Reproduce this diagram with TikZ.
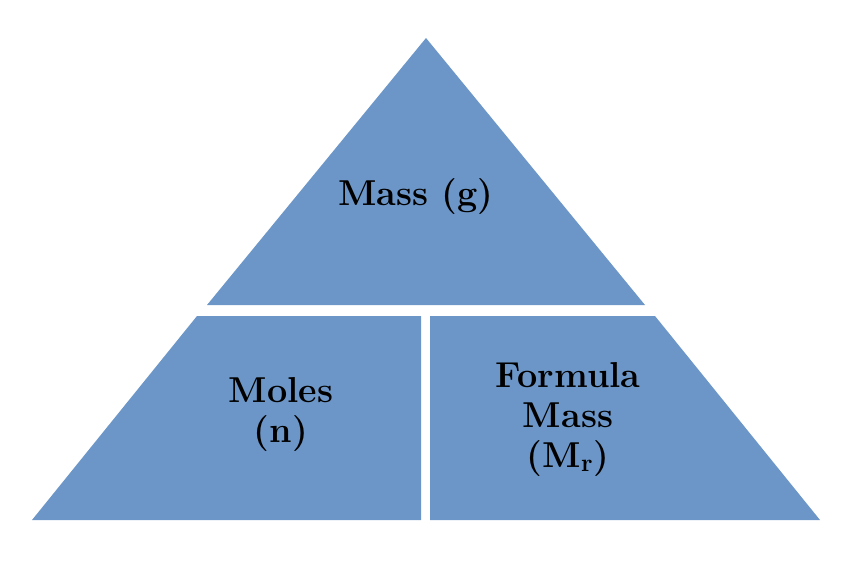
\documentclass[tikz,border=0pt]{standalone}
\usepackage{fontspec}
\begin{document}
\begin{tikzpicture}[x=1pt,y=-1pt,
  part/.style={fill=blue1,draw=none},
  lab/.style={font=\fontsize{36}{40}\selectfont\bfseries,align=center,text=black,inner sep=0pt}]
\definecolor{blue1}{RGB}{108,150,199}
\useasboundingbox (0,0) rectangle (866,568);
\fill[part] (426,38) -- (645,305) -- (207,305) -- cycle;
\fill[part] (197,316) -- (421,316) -- (421,520) -- (32,520) -- cycle;
\fill[part] (430,316) -- (655,316) -- (820,520) -- (430,520) -- cycle;
\node[lab] (mass) at (416,197) {Mass (g)};
\node[lab] (moles) at (281,415) {Moles\\(n)};
\node[lab] (fm) at (568,420) {Formula\\Mass\\(M\textsubscript{r})};
\end{tikzpicture}
\end{document}
